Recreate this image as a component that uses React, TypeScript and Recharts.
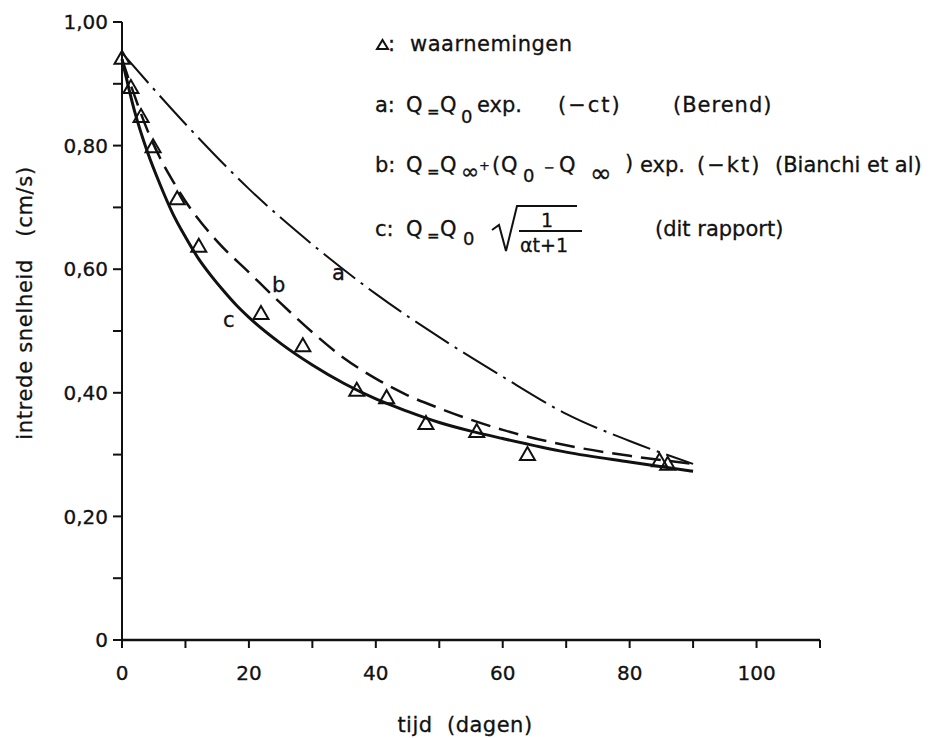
import React from 'react';
import { ComposedChart, Line, Scatter, XAxis, YAxis } from 'recharts';

// waarnemingen (observations)
const obsT = [0, 1.4, 3, 4.9, 8.7, 12.1, 21.9, 28.5, 37, 41.7, 47.9, 55.9, 63.9, 84.7, 86];
const obsQ = [0.942, 0.895, 0.848, 0.799, 0.715, 0.638, 0.529, 0.477, 0.405, 0.393, 0.351, 0.338, 0.301, 0.291, 0.285];

// curve a (Berend)
const curveAT = [0, 10, 20, 30, 40, 50, 60, 70, 80, 90];
const curveAQ = [0.95, 0.835, 0.73, 0.64, 0.56, 0.49, 0.426, 0.366, 0.322, 0.285];

// curve b (Bianchi et al)
const curveBT = [0, 2, 4, 6, 8, 10, 15, 20, 25, 30, 35, 40, 45, 50, 60, 70, 80, 90];
const curveBQ = [0.94, 0.88, 0.825, 0.78, 0.743, 0.71, 0.645, 0.595, 0.545, 0.498, 0.456, 0.423, 0.396, 0.375, 0.34, 0.315, 0.298, 0.285];

// curve c (dit rapport)
const curveCT = [0, 2, 4, 6, 8, 10, 12, 14, 16, 18, 20, 25, 30, 35, 40, 45, 50, 55, 60, 70, 80, 90];
const curveCQ = [0.94, 0.855, 0.79, 0.737, 0.69, 0.652, 0.618, 0.59, 0.565, 0.542, 0.522, 0.48, 0.445, 0.415, 0.39, 0.37, 0.352, 0.338, 0.326, 0.304, 0.288, 0.273];

const xTicks = [0, 10, 20, 30, 40, 50, 60, 70, 80, 90, 100, 110];
const xTickLabels = ['0', '', '20', '', '40', '', '60', '', '80', '', '100', ''];
const yTicks = [0, 0.1, 0.2, 0.3, 0.4, 0.5, 0.6, 0.7, 0.8, 0.9, 1.0];
const yTickLabels = ['0', '', '0,20', '', '0,40', '', '0,60', '', '0,80', '', '1,00'];

const legendNames = ['waarnemingen', '(Berend)', '(Bianchi et al)', '(dit rapport)'];
const xTitle = 'tijd\u00a0\u00a0(dagen)';
const yTitle = 'intrede snelheid\u00a0\u00a0\u00a0(cm/s)';

const zip = (ts: number[], qs: number[]) => ts.map((t, i) => ({ t, q: qs[i] }));
const obs = zip(obsT, obsQ);
const curveA = zip(curveAT, curveAQ);
const curveB = zip(curveBT, curveBQ);
const curveC = zip(curveCT, curveCQ);

const INK = '#111';
const FONT = '"DejaVu Sans", sans-serif';
const W = 918;
const H = 730;
const tickStyle = { fill: INK, fontSize: 20, fontFamily: FONT, stroke: INK, strokeWidth: 0.3 };

const Triangle = (props: any) => {
  const { cx, cy } = props;
  if (cx == null || cy == null) return null;
  return (
    <path
      d={`M${cx - 7.5},${cy + 6} L${cx + 7.5},${cy + 6} L${cx},${cy - 7} Z`}
      fill="none"
      stroke={INK}
      strokeWidth={2}
    />
  );
};

const T = (p: { x: number; y: number; s?: number; ls?: number; children: React.ReactNode }) => (
  <text
    x={p.x}
    y={p.y}
    fontSize={p.s ?? 21}
    letterSpacing={p.ls ?? 0}
    fill={INK}
    stroke={INK}
    strokeWidth={0.3}
    fontFamily={FONT}
  >
    {p.children}
  </text>
);

// page coordinates, shifted by the 8px body margin
const Overlay = () => (
  <svg width={W} height={H} style={{ position: 'absolute', left: 0, top: 0, pointerEvents: 'none' }}>
    <g transform="translate(-8,-8)">
      {/* legend line 1 */}
      <path d="M377,49 L388,49 L382.5,40 Z" fill="none" stroke={INK} strokeWidth={2} />
      <T x={388} y={51}>:</T>
      <T x={410} y={51} ls={0.5}>{legendNames[0]}</T>

      {/* a */}
      <T x={375} y={112}>a:</T>
      <T x={406} y={112}>Q</T>
      <T x={427} y={117} s={15}>=</T>
      <T x={440} y={112}>Q</T>
      <T x={461} y={123} s={18}>0</T>
      <T x={477} y={112}>exp.</T>
      <T x={558} y={112} ls={2}>(−ct)</T>
      <T x={673} y={112} ls={1}>{legendNames[1]}</T>

      {/* b */}
      <T x={375} y={172}>b:</T>
      <T x={406} y={172}>Q</T>
      <T x={427} y={177} s={15}>=</T>
      <T x={440} y={172}>Q</T>
      <T x={461} y={179} s={22}>∞</T>
      <T x={479} y={170} s={13}>+</T>
      <T x={492} y={172}>(</T>
      <T x={501} y={172}>Q</T>
      <T x={523} y={182} s={18}>0</T>
      <T x={544} y={172} s={13}>−</T>
      <T x={559} y={172}>Q</T>
      <T x={590} y={182} s={26}>∞</T>
      <T x={625} y={170}>)</T>
      <T x={640} y={172}>exp.</T>
      <T x={697} y={172} ls={2}>(−kt)</T>
      <T x={775} y={172}>{legendNames[2]}</T>

      {/* c */}
      <T x={375} y={236}>c:</T>
      <T x={406} y={236}>Q</T>
      <T x={427} y={241} s={15}>=</T>
      <T x={440} y={236}>Q</T>
      <T x={463} y={245} s={18}>0</T>
      <path d="M492,230 L499,225 L506,251 L517,206 L577,206" fill="none" stroke={INK} strokeWidth={2} />
      <T x={541} y={227} s={19}>1</T>
      <line x1={519} y1={231} x2={582} y2={231} stroke={INK} strokeWidth={2} />
      <T x={520} y={252} s={19}>αt+1</T>
      <T x={655} y={236}>{legendNames[3]}</T>

      {/* curve names */}
      <T x={332} y={280}>a</T>
      <T x={272} y={292}>b</T>
      <T x={223} y={327}>c</T>

      {/* axis titles */}
      <text
        x={32}
        y={303}
        transform="rotate(-90 32 303)"
        textAnchor="middle"
        fontSize={21}
        letterSpacing={0.7}
        fill={INK}
        stroke={INK}
        strokeWidth={0.3}
        fontFamily={FONT}
      >
        {yTitle}
      </text>
      <text
        x={465}
        y={732}
        textAnchor="middle"
        fontSize={21}
        letterSpacing={0.5}
        fill={INK}
        stroke={INK}
        strokeWidth={0.3}
        fontFamily={FONT}
      >
        {xTitle}
      </text>
    </g>
  </svg>
);

export default function App() {
  return (
    <div style={{ position: 'relative', width: W, height: H, background: '#fff' }}>
      <ComposedChart width={W} height={H} margin={{ top: 14, right: 106, bottom: 0, left: 0 }}>
        <XAxis
          type="number"
          dataKey="t"
          domain={[0, 110]}
          ticks={xTicks}
          interval={0}
          height={98}
          tickSize={8}
          tickMargin={18}
          tickFormatter={(v: number) => xTickLabels[xTicks.indexOf(v)] ?? ''}
          axisLine={{ stroke: INK, strokeWidth: 2.5 }}
          tickLine={{ stroke: INK, strokeWidth: 2 }}
          tick={tickStyle}
        />
        <YAxis
          type="number"
          dataKey="q"
          domain={[0, 1]}
          ticks={yTicks}
          interval={0}
          width={114}
          tickSize={9}
          tickMargin={5}
          tickFormatter={(v: number) => yTickLabels[yTicks.indexOf(v)] ?? ''}
          axisLine={{ stroke: INK, strokeWidth: 2 }}
          tickLine={{ stroke: INK, strokeWidth: 2 }}
          tick={tickStyle}
        />
        <Line
          data={curveA}
          dataKey="q"
          type="monotone"
          dot={false}
          stroke={INK}
          strokeWidth={2}
          strokeDasharray="40 7 3 7"
          isAnimationActive={false}
        />
        <Line
          data={curveB}
          dataKey="q"
          type="monotone"
          dot={false}
          stroke={INK}
          strokeWidth={2.5}
          strokeDasharray="20 9"
          isAnimationActive={false}
        />
        <Line
          data={curveC}
          dataKey="q"
          type="monotone"
          dot={false}
          stroke={INK}
          strokeWidth={3}
          isAnimationActive={false}
        />
        <Scatter data={obs} dataKey="q" shape={Triangle} isAnimationActive={false} />
      </ComposedChart>
      <Overlay />
    </div>
  );
}
